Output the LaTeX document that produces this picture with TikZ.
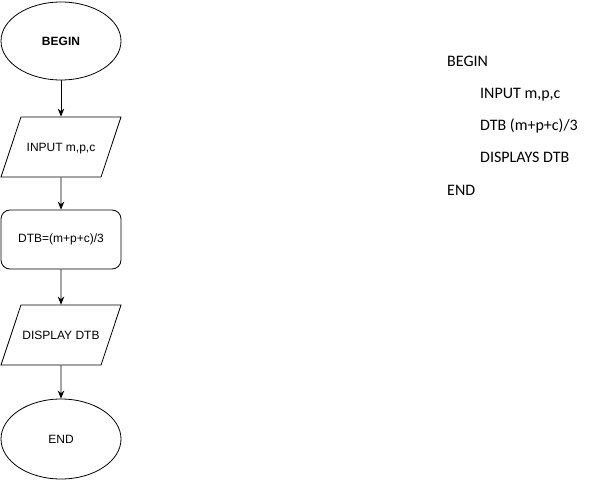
\documentclass[tikz,border=0pt]{standalone}
\usepackage{fontspec}
\setmainfont{Liberation Sans}
\newfontfamily\calfont{Carlito}
\usetikzlibrary{shapes.geometric}
\usetikzlibrary{arrows.meta}

\tikzset{
    terminal/.style={draw, ellipse, line width=0.8pt, minimum width=120pt, minimum height=78pt, inner sep=0pt, font=\fontsize{12}{14}\selectfont},
    io/.style={draw, trapezium, trapezium left angle=71.57, trapezium right angle=108.43, trapezium stretches body, line width=0.8pt, minimum width=120pt, text height=34.3pt, text depth=25.7pt, inner sep=0pt, font=\fontsize{12}{14}\selectfont},
    process/.style={draw, rectangle, rounded corners=9pt, line width=0.8pt, minimum width=120pt, minimum height=59pt, inner sep=0pt, font=\fontsize{12}{14}\selectfont},
    flow/.style={line width=0.8pt, -{Stealth[length=8pt,width=6.5pt]}},
    pseudo/.style={anchor=base west, inner sep=0pt, font=\calfont\fontsize{16}{19}\selectfont}
}

\begin{document}
\begin{tikzpicture}[x=1pt, y=-1pt]
        \useasboundingbox (0, 0) rectangle (607, 481);

        % flowchart
        \node[terminal] (begin) at (61, 41) {\textbf{BEGIN}};
        \node[io] (input) at (61, 147) {INPUT m,p,c};
        \node[process] (calc) at (61, 239.5) {DTB=(m+p+c)/3};
        \node[io] (display) at (61, 335) {DISPLAY DTB};
        \node[terminal, minimum height=80pt] (end) at (61, 439) {END};

        \draw[flow] (begin) -- (input);
        \draw[flow] (input) -- (calc);
        \draw[flow] (calc) -- (display);
        \draw[flow] (display) -- (end);

        % pseudocode
        \node[pseudo] (pBegin) at (447, 67) {BEGIN};
        \node[pseudo] (pInput) at (480, 99) {INPUT m,p,c};
        \node[pseudo] (pCalc) at (480, 131) {DTB (m+p+c)/3};
        \node[pseudo] (pDisplay) at (480, 163) {DISPLAYS DTB};
        \node[pseudo] (pEnd) at (447, 195) {END};
    \end{tikzpicture}
\end{document}
